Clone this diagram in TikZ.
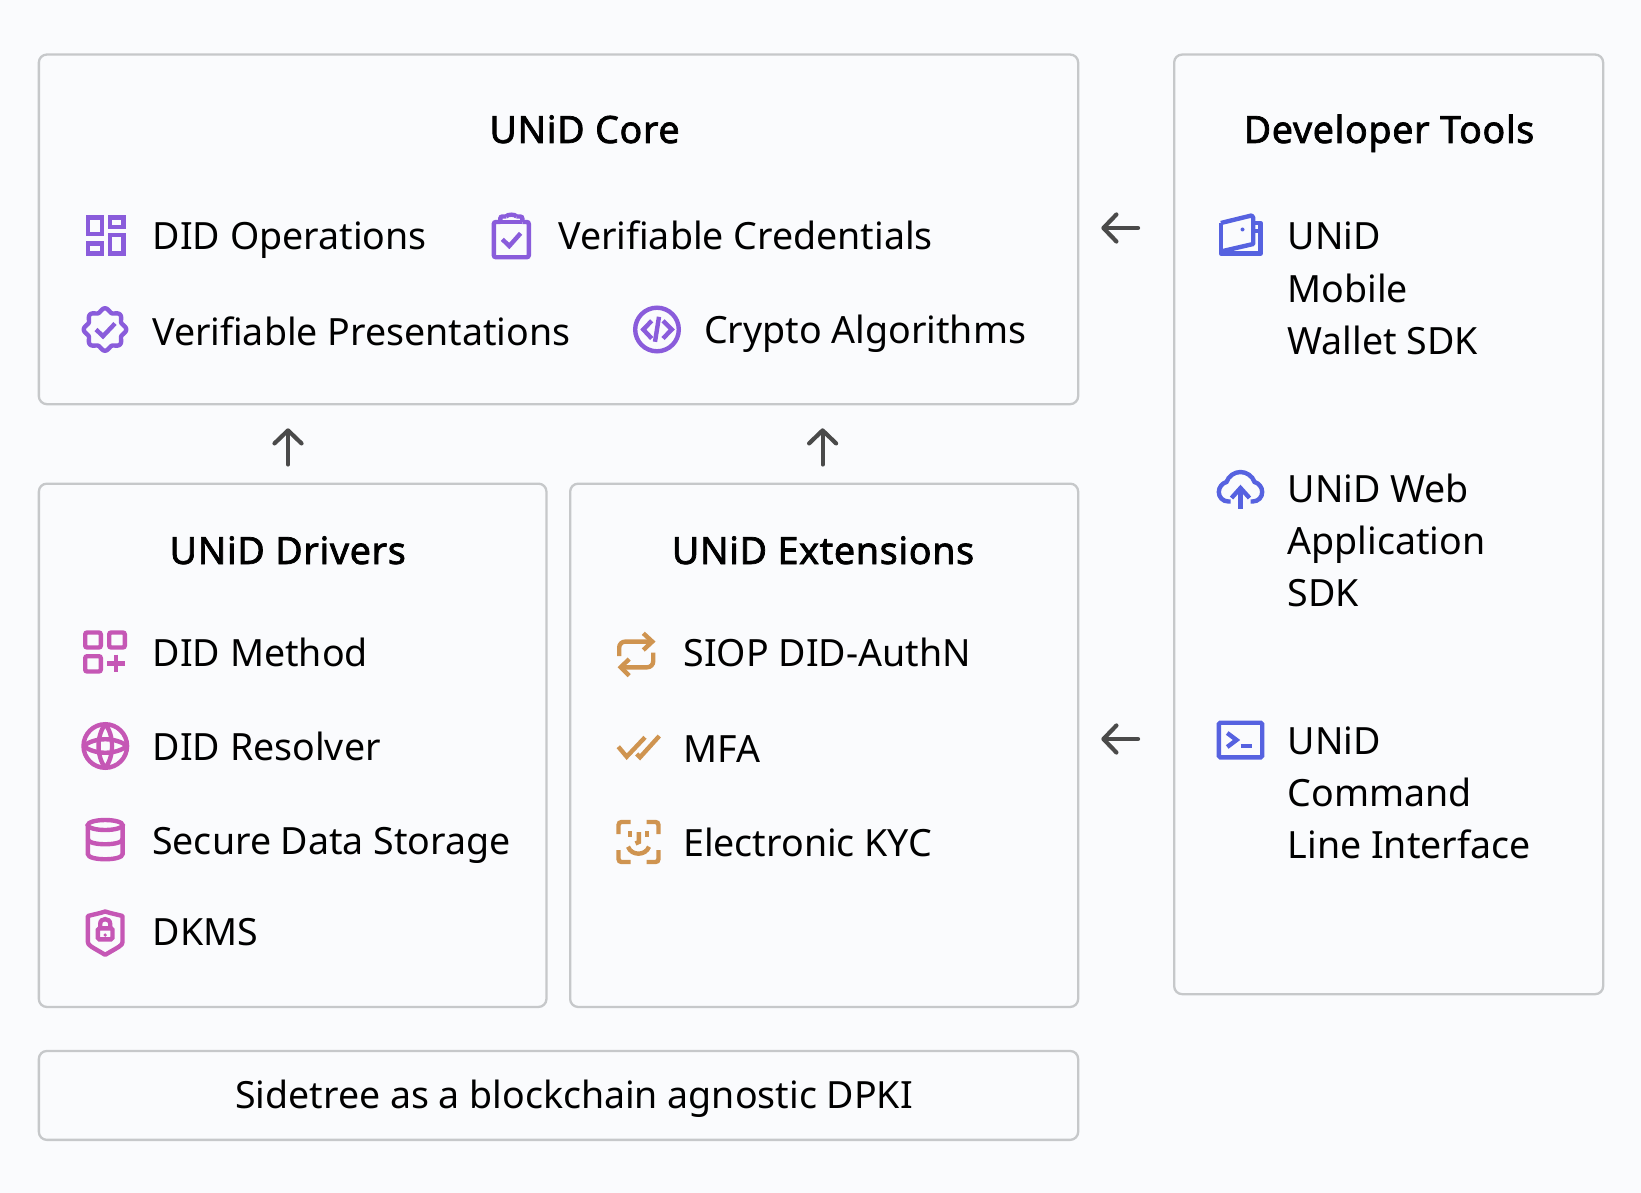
\documentclass[tikz,border=0pt]{standalone}
\usepackage{fontspec}
\setmainfont{Noto Sans}
\newfontfamily\headf{Noto Sans}[FakeBold=1.9,LetterSpace=1.8]
\usetikzlibrary{arrows.meta}
\definecolor{pagebg}{HTML}{FAFBFD}
\definecolor{edge}{HTML}{C6C8CA}
\definecolor{purp}{HTML}{8A5CDB}
\definecolor{mage}{HTML}{C557B5}
\definecolor{tan1}{HTML}{CF9450}
\definecolor{blu}{HTML}{5662E0}
\definecolor{arrowc}{HTML}{4A4A4A}
\newcommand{\threeL}[3]{\vtop{\baselineskip=52.2pt\lineskiplimit=-100pt\hbox{#1}\hbox{#2}\hbox{#3}}}
\tikzset{
  x=1pt,y=-1pt,
  box/.style={draw=edge,line width=2.3pt,fill=pagebg,rounded corners=8pt,anchor=north west,inner sep=0pt},
  txt/.style={anchor=base west,inner sep=0pt,font=\fontsize{37.55}{46}\selectfont,text=black},
  ctxt/.style={anchor=base,inner sep=0pt,font=\fontsize{37.5}{46}\selectfont,text=black},
  head/.style={anchor=base,inner sep=0pt,font=\fontsize{37.6}{46}\selectfont\headf,text=black},
  arr/.style={draw=arrowc,line width=4.2pt,line cap=round,-{Straight Barb[length=13pt,width=27pt,line width=4.2pt,round]}},
  ic/.style={line width=4.4pt,line cap=butt,line join=miter},
  pics/icdash/.style={code={
    \draw[ic] (-17.8,-17.8) rectangle (-3.7,-1.4);
    \draw[ic] (-17.8,7.9) rectangle (-3.7,17.8);
    \draw[ic] (4.2,-17.8) rectangle (17.8,-8.4);
    \draw[ic] (4.2,-0.5) rectangle (17.8,17.8);}},
  pics/icclip/.style={code={
    \draw[ic,rounded corners=2pt] (-11,-14) -- (-17.5,-14) -- (-17.5,21.2) -- (17.5,21.2) -- (17.5,-14) -- (11,-14);
    \draw[ic] (-11,-14) -- (11,-14);
    \draw[ic,rounded corners=2pt] (-11,-14) -- (-11,-19.5) -- (-5,-19.5);
    \draw[ic,rounded corners=2pt] (11,-14) -- (11,-19.5) -- (5,-19.5);
    \draw[ic] (-5.2,-19.5) .. controls (-4,-21.9) and (4,-21.9) .. (5.2,-19.5);
    \draw[ic] (-9,3.3) -- (-2,10) -- (9.3,-2.7);}},
  pics/icbadge/.style={code={
    \draw[ic,domain=0:360,samples=145,smooth] plot ({(19.4+1.8*cos(8*\x))*cos(\x)},{(19.4+1.8*cos(8*\x))*sin(\x)}) -- cycle;
    \draw[ic] (-9,0) -- (-2,6.7) -- (10,-6);}},
  pics/iccode/.style={code={
    \draw[ic] (0,0) circle [radius=21.8];
    \draw[ic] (-5.3,-8.7) -- (-13.7,0) -- (-5.3,9);
    \draw[ic] (6,-8.7) -- (14.7,0) -- (6,9);
    \draw[ic] (2,-12.7) -- (-2,12.3);}},
  pics/icgrid/.style={code={
    \draw[ic,rounded corners=2pt] (-19.8,-19.5) rectangle (-4.2,-4.5);
    \draw[ic,rounded corners=2pt] (4.2,-19.5) rectangle (19.8,-4.5);
    \draw[ic,rounded corners=2pt] (-19.8,4.2) rectangle (-4.2,19.5);
    \draw[ic] (2.3,11.3) -- (19.7,11.3);
    \draw[ic] (11,2.6) -- (11,20);}},
  pics/icglobe/.style={code={
    \draw[ic] (0,0) circle [radius=21.8];
    \draw[ic] (0,-22) .. controls (9,-10) and (9,10) .. (0,22);
    \draw[ic] (0,-22) .. controls (-9,-10) and (-9,10) .. (0,22);
    \draw[ic] (-22,0) .. controls (-10,-9) and (10,-9) .. (22,0);
    \draw[ic] (-22,0) .. controls (-10,9) and (10,9) .. (22,0);}},
  pics/icdb/.style={code={
    \draw[ic] (0,-15) ellipse [x radius=17.4,y radius=5];
    \draw[ic] (-17.4,-15) -- (-17.4,14) .. controls (-17.4,21) and (17.4,21) .. (17.4,14) -- (17.4,-15);
    \draw[ic] (-17.4,-1) .. controls (-17.4,6) and (17.4,6) .. (17.4,-1);}},
  pics/icshield/.style={code={
    \draw[ic,line join=round] (0,-21.5) .. controls (-6,-19.5) and (-12,-18.5) .. (-17.3,-17) -- (-17.3,9) .. controls (-17.3,12.5) and (-14,13.5) .. (0,21.8) .. controls (14,13.5) and (17.3,12.5) .. (17.3,9) -- (17.3,-17) .. controls (12,-18.5) and (6,-19.5) .. (0,-21.5) -- cycle;
    \draw[ic,rounded corners=1.5pt] (-7.3,-4.7) rectangle (7.3,6.3);
    \draw[ic] (-5,-4.7) -- (-5,-9) .. controls (-5,-15.5) and (5,-15.5) .. (5,-9) -- (5,-4.7);
    \fill (0,2) circle [radius=1.8];}},
  pics/icloop/.style={code={
    \draw[ic] (7.1,-21) -- (16.1,-12.7) -- (7.1,-4.3);
    \draw[ic,rounded corners=6pt] (16.1,-12.7) -- (-17,-12.7) -- (-17,1.7);
    \draw[ic] (-7,4.7) -- (-15.5,13) -- (-7,21.3);
    \draw[ic,rounded corners=6pt] (-15.5,13) -- (17,13) -- (17,-1.7);}},
  pics/iccheck/.style={code={
    \draw[ic] (-20.7,-0.3) -- (-12.3,9.7) -- (6,-9.7);
    \draw[ic] (-2.3,7) -- (1,10.3) -- (20.3,-11);}},
  pics/icface/.style={code={
    \draw[ic,rounded corners=3pt] (-20,-8) -- (-20,-20) -- (-8,-20);
    \draw[ic,rounded corners=3pt] (8,-20) -- (20,-20) -- (20,-8);
    \draw[ic,rounded corners=3pt] (-20,8) -- (-20,20) -- (-8,20);
    \draw[ic,rounded corners=3pt] (8,20) -- (20,20) -- (20,8);
    \draw[ic] (-8.7,-11) -- (-8.7,-5);
    \draw[ic] (8.7,-11) -- (8.7,-5);
    \draw[ic] (0.3,-10) -- (0.3,0) -- (-3,1.5);
    \draw[ic] (-10.5,4.7) .. controls (-7,14) and (7,14) .. (10.5,4.7);}},
  pics/icwallet/.style={code={
    \draw[ic,line join=round] (-19.7,-11.5) -- (11,-19) -- (12.7,-17) -- (12.7,9.5) -- (-19.7,17);
    \draw[ic,line join=round] (-19.7,-11.5) -- (-19.7,19) -- (20,19) -- (20,-11.5) -- (12.7,-11.5);
    \draw[ic] (12.7,-3.5) -- (20,-3.5);
    \fill (2,-5) circle [radius=2];}},
  pics/iccloud/.style={code={
    \draw[ic] (-10,11.5) -- (-12,11.5) .. controls (-18,11.5) and (-21.7,7) .. (-21.7,2) .. controls (-21.7,-3) and (-18,-7) .. (-14,-8) .. controls (-12,-14) and (-6,-18) .. (0,-18) .. controls (6,-18) and (12,-14) .. (14,-8) .. controls (18,-7) and (21.7,-3) .. (21.7,2) .. controls (21.7,7) and (18,11.5) .. (12,11.5) -- (10,11.5);
    \draw[ic] (0,18.5) -- (0,-2);
    \draw[ic] (-9,8) -- (0,-2) -- (9,8);}},
  pics/icterm/.style={code={
    \draw[ic,rounded corners=1.5pt] (-21.7,-17.3) rectangle (21.7,17.3);
    \draw[ic] (-13.3,-7) -- (-4,0) -- (-13.3,7);
    \draw[ic] (0,6) -- (11,6);}}
}
\begin{document}
\begin{tikzpicture}
\useasboundingbox[fill=pagebg] (0,0) rectangle (1641,1193);
% boxes
\node[box,minimum width=1039.3pt,minimum height=349.6pt] (core) at (37.7,53.4) {};
\node[box,minimum width=507.6pt,minimum height=523.3pt] (drivers) at (37.7,482.5) {};
\node[box,minimum width=508pt,minimum height=523.3pt] (ext) at (569,482.5) {};
\node[box,minimum width=1039.3pt,minimum height=88.9pt] (base) at (37.7,1049.8) {};
\node[box,minimum width=429pt,minimum height=939.6pt] (dev) at (1173,53.4) {};
% headings
\node[head] (hcore) at (584.5,143) {UNiD Core};
\node[head] (hdev) at (1389,143) {Developer Tools};
\node[head] (hdrv) at (287.7,564) {UNiD Drivers};
\node[head] (hext) at (823,564) {UNiD Extensions};
% core items
\node[txt] (t1) at (152.5,250) {DID Operations};
\node[txt] (t2) at (558,250) {Verifiable Credentials};
\node[txt] (t3) at (152,345) {Verifiable Presentations};
\node[txt] (t4) at (704,343) {Crypto Algorithms};
% drivers
\node[txt] (t5) at (152.5,666.7) {DID Method};
\node[txt] (t6) at (152.5,760) {DID Resolver};
\node[txt] (t7) at (152,854) {Secure Data Storage};
\node[txt] (t8) at (152.5,945) {DKMS};
% extensions
\node[txt] (t9) at (683.4,666.7) {SIOP DID-AuthN};
\node[txt] (t10) at (683,762) {MFA};
\node[txt] (t11) at (683,856) {Electronic KYC};
% developer tools
\node[txt] (t12) at (1287.5,250) {\threeL{UNiD}{Mobile}{Wallet SDK}};
\node[txt] (t13) at (1287.5,502) {\threeL{UNiD Web}{Application}{SDK}};
\node[txt] (t14) at (1287.5,754) {\threeL{UNiD}{Command}{Line Interface}};
% base
\node[ctxt] (t15) at (574,1108.4) {Sidetree as a blockchain agnostic DPKI};
% arrows
\coordinate (ax1) at (288,0);
\coordinate (ax2) at (822.6,0);
\coordinate (ay1) at (0,228);
\coordinate (ay2) at (0,739);
\draw[arr,shorten <=18pt,shorten >=23pt] (drivers.north -| ax1) -- (core.south -| ax1);
\draw[arr,shorten <=18pt,shorten >=23pt] (ext.north -| ax2) -- (core.south -| ax2);
\draw[arr,shorten <=35pt,shorten >=22pt] (dev.west |- ay1) -- (core.east |- ay1);
\draw[arr,shorten <=35pt,shorten >=22pt] (dev.west |- ay2) -- (ext.east |- ay2);
% icons
\pic[purp] at (105.5,235.5) {icdash};
\pic[purp] at (511.3,236) {icclip};
\pic[purp] at (105,329.5) {icbadge};
\pic[purp] at (657,329.5) {iccode};
\pic[mage] at (105,652) {icgrid};
\pic[mage] at (105.3,746) {icglobe};
\pic[mage] at (105.2,840) {icdb};
\pic[mage] at (105.2,933) {icshield};
\pic[tan1] at (636.2,654.3) {icloop};
\pic[tan1] at (639,747) {iccheck};
\pic[tan1] at (638.5,842) {icface};
\pic[blu] at (1240.5,234.5) {icwallet};
\pic[blu] at (1240.5,490) {iccloud};
\pic[blu] at (1240.5,740) {icterm};
\end{tikzpicture}
\end{document}
